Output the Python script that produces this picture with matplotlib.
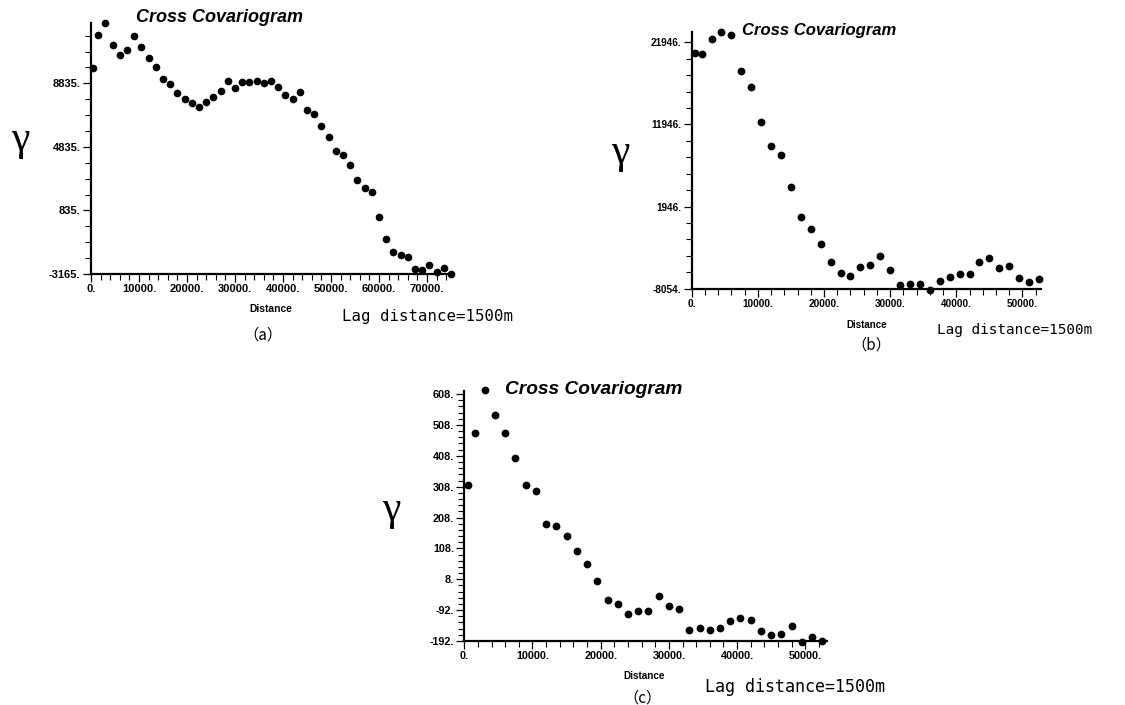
import numpy as np
import matplotlib
matplotlib.use("Agg")
import matplotlib.pyplot as plt
from matplotlib.ticker import FixedLocator, FuncFormatter

# -----------------------
# DATA (lag distance in m, cross covariogram value)
# -----------------------
lag_a = [500, 1500, 3000, 4500, 6000, 7500, 9000, 10500, 12000, 13500,
         15000, 16500, 18000, 19500, 21000, 22500, 24000, 25500, 27000, 28500,
         30000, 31500, 33000, 34500, 36000, 37500, 39000, 40500, 42000, 43500,
         45000, 46500, 48000, 49500, 51000, 52500, 54000, 55500, 57000, 58500,
         60000, 61500, 63000, 64500, 66000, 67500, 69000, 70500, 72000, 73500,
         75000]
gamma_a = [9780, 11896, 12650, 11225, 10638, 10931, 11791, 11099, 10407, 9862,
           9108, 8772, 8227, 7850, 7619, 7367, 7661, 7996, 8353, 9003,
           8541, 8940, 8898, 8982, 8835, 8982, 8583, 8122, 7871, 8290,
           7179, 6906, 6131, 5460, 4579, 4328, 3699, 2734, 2273, 2001,
           449, -980, -1778, -1946, -2092, -2847, -2889, -2616, -3035, -2805,
           -3181]

lag_b = [500, 1500, 3000, 4500, 6000, 7500, 9000, 10500, 12000, 13500,
         15000, 16500, 18000, 19500, 21000, 22500, 24000, 25500, 27000, 28500,
         30000, 31500, 33000, 34500, 36000, 37500, 39000, 40500, 42000, 43500,
         45000, 46500, 48000, 49500, 51000, 52500]
gamma_b = [20647, 20525, 22311, 23164, 22880, 18414, 16546, 12242, 9360, 8182,
           4366, 671, -791, -2658, -4851, -6109, -6556, -5378, -5216, -4079,
           -5785, -7652, -7490, -7530, -8220, -7084, -6637, -6312, -6272, -4769,
           -4363, -5500, -5297, -6718, -7205, -6921]

lag_c = list(lag_b)
gamma_c = [314, 481, 620, 539, 481, 402, 313, 295, 188, 181,
           149, 99, 57, 2, -58, -71, -104, -95, -96, -45,
           -78, -87, -155, -151, -157, -151, -127, -117, -123, -161,
           -174, -170, -145, -195, -178, -192]

yticks_a = [-3165, 835, 4835, 8835]
yticks_b = [-8054, 1946, 11946, 21946]
yticks_c = [-192, -92, 8, 108, 208, 308, 408, 508, 608]

W, H = 1125, 705
fig = plt.figure(figsize=(W / 100, H / 100), dpi=100)


def px_axes(left, top, right, bottom):
    return fig.add_axes([left / W, 1 - bottom / H, (right - left) / W, (bottom - top) / H])


def ftext(x, y, s, **kw):
    fig.text(x / W, 1 - y / H, s, ha="center", va="center", **kw)


def panel(box, lag, gam, xlim, ylim, xmaj, yticks, yminor, tick_fs, ms):
    ax = px_axes(*box)
    ax.plot(lag, gam, "o", color="black", ms=ms, mec="black", clip_on=False)
    ax.set_xlim(*xlim)
    ax.set_ylim(*ylim)
    ax.spines["top"].set_visible(False)
    ax.spines["right"].set_visible(False)
    for s in ["left", "bottom"]:
        ax.spines[s].set_linewidth(1.6)
    ax.xaxis.set_major_locator(FixedLocator(xmaj))
    ax.xaxis.set_minor_locator(FixedLocator(np.arange(0, xlim[1], 2000)))
    ax.yaxis.set_major_locator(FixedLocator(yticks))
    ax.yaxis.set_minor_locator(FixedLocator(np.arange(ylim[0], ylim[1], yminor)))
    fmt = FuncFormatter(lambda v, p: "%d." % round(v))
    ax.xaxis.set_major_formatter(fmt)
    ax.yaxis.set_major_formatter(fmt)
    ax.tick_params(which="major", direction="out", length=6, width=0.9,
                   labelsize=tick_fs, pad=1.5)
    ax.tick_params(which="minor", direction="out", length=4, width=0.8)
    for lab in ax.get_xticklabels() + ax.get_yticklabels():
        lab.set_fontweight("bold")
        lab.set_family("Liberation Sans")
    return ax


# -----------------------
# PANEL (a)
# -----------------------
panel((91, 22.7, 453, 274), lag_a, gamma_a, (0, 75400), (-3165, 12650),
      np.arange(0, 70001, 10000), yticks_a, 1000, 8, 4.5)
# -----------------------
# PANEL (b)
# -----------------------
panel((691.7, 32.3, 1041, 288.7), lag_b, gamma_b, (0, 52800), (-8054, 23164),
      np.arange(0, 50001, 10000), yticks_b, 2000, 7.2, 4.6)
# -----------------------
# PANEL (c)
# -----------------------
panel((464.3, 390.7, 826.7, 641), lag_c, gamma_c, (0, 53140), (-192, 619),
      np.arange(0, 50001, 10000), yticks_c, 20, 7.8, 4.6)

# -----------------------
# TEXTS
# -----------------------
title_kw = dict(family="Liberation Sans", weight="bold", style="italic")
ftext(220, 17, "Cross Covariogram", fontsize=13, **title_kw)
ftext(819, 31, "Cross Covariogram", fontsize=12, **title_kw)
ftext(594, 390, "Cross Covariogram", fontsize=13.8, **title_kw)

gam_kw = dict(family="Liberation Serif", fontsize=30)
ftext(20, 140, "γ", **gam_kw)
ftext(620, 153, "γ", **gam_kw)
ftext(391, 510, "γ", **gam_kw)

dist_kw = dict(family="Liberation Sans", weight="bold")
ftext(271, 309, "Distance", fontsize=7.4, **dist_kw)
ftext(867, 325, "Distance", fontsize=7, **dist_kw)
ftext(644, 676, "Distance", fontsize=7.2, **dist_kw)

ftext(427, 316, "Lag distance=1500m", family="DejaVu Sans Mono", fontsize=11.3)
ftext(1015, 330, "Lag distance=1500m", family="DejaVu Sans Mono", fontsize=10.4)
ftext(795, 687, "Lag distance=1500m", family="DejaVu Sans Mono", fontsize=12)

sub_kw = dict(family=["Noto Sans CJK SC", "DejaVu Sans"], fontsize=11)
ftext(263, 335, "（a）", **sub_kw)
ftext(871, 345, "（b）", **sub_kw)
ftext(642, 698, "（c）", **sub_kw)

fig.savefig("out.png", dpi=100)
